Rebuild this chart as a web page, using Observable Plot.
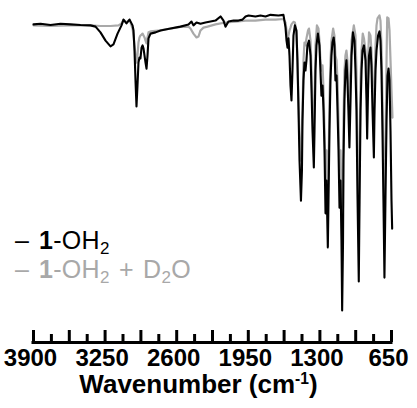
<!DOCTYPE html>
<html><head><meta charset="utf-8">
<script src="https://cdn.jsdelivr.net/npm/d3@7"></script>
<script src="https://cdn.jsdelivr.net/npm/@observablehq/plot@0.6"></script>
<style>
body{margin:0;background:#fff;font-family:"Liberation Sans",Arial,sans-serif;}
#wrap{position:relative;width:417px;height:408px;overflow:hidden;}
#legend{position:absolute;left:15px;top:226px;font-size:25px;line-height:29px;white-space:nowrap;letter-spacing:0.3px;}
#legend .d{display:inline-block;width:24px;}
#legend sub{font-size:0.68em;line-height:0;vertical-align:-0.3em;}
#legend .k{color:#000;}
#legend .g{color:#a8a8a8;word-spacing:2px;}
#xtitle{font-size:26px;font-weight:bold;text-align:center;width:397px;line-height:26px;margin-top:2px;}
#xtitle sup{font-size:0.6em;line-height:0;vertical-align:0.6em;}
</style></head><body>
<div id="wrap">
<div id="chart"></div>
<div id="legend">
<div class="k"><span class="d">–</span><b>1</b>-OH<sub>2</sub></div>
<div class="g"><span class="d">–</span><b>1</b>-OH<sub>2</sub> + D<sub>2</sub>O</div>
</div>
<div id="xtitle">Wavenumber (cm<sup>-1</sup>)</div>
</div>
<script>
// Series 1: 1-OH2 (black)
const blackWavenumber = [3900,3836,3746,3655,3564,3473,3383,3337,3292,3246,3201,3174,3137,3101,3083,3056,3028,3001,2992,2983,2974,2965,2956,2947,2938,2929,2919,2910,2901,2892,2883,2874,2865,2856,2838,2792,2747,2656,2566,2493,2466,2448,2420,2384,2339,2293,2248,2202,2175,2157,2130,2084,2039,2003,1975,1948,1885,1839,1794,1749,1676,1631,1622,1612,1603,1594,1585,1576,1567,1558,1549,1540,1527,1513,1504,1494,1485,1472,1463,1458,1449,1440,1431,1422,1413,1399,1385,1376,1367,1355,1349,1340,1331,1318,1304,1295,1286,1276,1267,1258,1249,1240,1228,1222,1213,1204,1195,1186,1175,1168,1159,1149,1140,1131,1122,1113,1104,1098,1090,1086,1077,1068,1059,1050,1041,1032,1022,1013,1000,986,977,968,959,947,940,931,922,913,900,886,877,871,863,854,841,832,822,810,804,795,786,772,759,750,741,732,723,714,705,695,686,677,668,659,650,644];
const blackTransmittance = [100.0,100.2,99.8,100.2,100.0,99.8,99.7,99.3,97.5,94.9,93.1,93.7,97.1,99.7,101.5,100.3,101.5,99.7,98.1,91.8,82.4,74.2,80.8,88.0,89.6,89.3,92.7,93.4,92.4,90.2,88.0,86.1,90.2,95.6,97.1,97.5,98.1,98.7,99.3,100.0,100.9,99.7,100.6,100.2,100.6,100.9,101.2,102.5,101.2,99.3,100.9,101.2,101.2,101.5,102.5,102.8,102.5,102.8,102.5,103.0,102.8,103.0,101.2,99.0,94.9,92.7,95.6,90.2,80.8,76.1,85.5,96.5,99.7,98.1,88.7,72.9,57.2,44.6,54.1,69.8,82.4,88.0,85.5,88.7,93.4,94.9,90.2,79.2,66.6,55.0,66.6,85.5,93.4,97.1,93.4,85.5,77.6,80.8,72.9,60.4,40.6,50.9,29.9,44.6,66.6,82.4,90.2,94.3,95.9,93.4,82.4,83.9,72.9,60.4,42.4,50.9,32.1,10.1,32.1,57.2,76.1,85.5,88.7,82.4,72.9,61.3,76.1,90.2,97.5,94.9,85.5,72.9,46.8,19.2,44.6,72.9,85.5,91.8,93.4,88.7,76.1,64.1,79.2,90.2,92.7,87.1,72.9,58.2,72.9,85.5,91.8,96.5,97.8,94.9,85.5,66.6,44.6,20.4,44.6,69.8,83.9,86.1,82.4,66.6,44.6,35.8];

// Series 2: 1-OH2 + D2O (grey)
const grayWavenumber = [3900,3746,3564,3383,3292,3201,3128,3101,3083,3056,3028,3001,2992,2983,2974,2965,2956,2947,2938,2929,2919,2910,2901,2892,2883,2874,2865,2856,2838,2747,2656,2566,2493,2475,2448,2420,2402,2384,2357,2320,2248,2157,2066,1975,1885,1794,1703,1631,1612,1603,1594,1585,1576,1567,1558,1540,1527,1513,1504,1494,1485,1472,1458,1449,1440,1431,1422,1408,1399,1385,1376,1367,1358,1349,1340,1327,1313,1304,1295,1286,1276,1267,1258,1249,1240,1231,1222,1213,1204,1195,1180,1168,1159,1149,1140,1131,1122,1113,1104,1098,1090,1086,1077,1068,1059,1050,1041,1032,1022,1013,992,977,968,959,947,940,931,922,911,900,886,877,871,863,854,841,832,822,810,804,795,786,777,759,750,741,732,723,714,705,695,689,677,668,659,650,641];
const grayTransmittance = [99.7,99.5,99.7,99.7,99.5,99.5,99.7,100.3,101.5,100.6,101.5,98.7,96.5,93.4,90.2,88.0,90.2,94.3,95.9,96.5,96.8,97.1,96.5,95.9,94.9,94.0,95.9,97.5,97.8,98.1,98.7,99.2,99.3,98.7,97.1,95.9,96.2,98.1,99.0,99.3,100.0,100.6,100.9,101.2,101.2,101.5,101.5,101.7,100.6,98.1,94.9,96.5,98.1,99.0,100.0,100.8,100.6,97.5,88.7,76.1,63.5,57.2,72.9,88.7,94.3,93.4,95.6,98.1,98.7,94.9,85.5,72.9,63.5,76.1,93.4,99.7,98.7,94.9,88.7,85.5,87.1,79.2,66.6,52.5,60.4,44.6,54.1,76.1,88.7,94.9,98.7,96.5,90.2,88.7,82.4,69.8,54.1,60.4,44.6,25.8,44.6,69.8,85.5,90.2,91.8,88.7,82.4,72.9,85.5,94.9,99.7,96.5,85.5,60.4,35.2,57.2,82.4,91.8,97.1,95.6,91.8,83.9,76.1,88.7,97.5,96.5,91.8,79.2,69.8,82.4,93.4,99.7,101.9,102.8,101.2,93.4,76.1,57.2,38.4,60.4,88.7,102.2,101.9,98.1,88.7,79.2,70.7];

// Axis ticks (cm-1)
const majorTicks = [3900,3575,3250,2925,2600,2275,1950,1625,1300,975,650];
const minorTicks = [3737.5,3412.5,3087.5,2762.5,2437.5,2112.5,1787.5,1462.5,1137.5,812.5];
const labelTicks = [3900,3250,2600,1950,1300,650];
const yDomain = [0, 105];

const black = blackWavenumber.map((w, i) => ({wn: w, t: blackTransmittance[i]}));
const gray = grayWavenumber.map((w, i) => ({wn: w, t: grayTransmittance[i]}));

const chart = Plot.plot({
  width: 417,
  height: 369,
  marginLeft: 33,
  marginRight: 26,
  marginTop: 8,
  marginBottom: 27,
  style: {fontFamily: '"Liberation Sans", Arial, sans-serif', background: "white", overflow: "visible"},
  x: {domain: [3900, 650], axis: null},
  y: {domain: yDomain, axis: null},
  marks: [
    Plot.line(gray, {x: "wn", y: "t", stroke: "#a9a9a9", strokeWidth: 2.2}),
    Plot.line(black, {x: "wn", y: "t", stroke: "#000", strokeWidth: 2.1}),
    Plot.ruleY([yDomain[0]], {stroke: "#000", strokeWidth: 3, strokeLinecap: "square"}),
    Plot.axisX(majorTicks, {anchor: "bottom", tickSize: -12, strokeWidth: 3, tickFormat: () => "", label: null}),
    Plot.axisX(minorTicks, {anchor: "bottom", tickSize: -8, strokeWidth: 3, tickFormat: () => "", label: null}),
    Plot.axisX(labelTicks, {anchor: "bottom", tickSize: 0, tickPadding: 6, dx: -3, fontSize: 24, fontWeight: "bold", tickFormat: d => String(d), label: null})
  ]
});
document.getElementById("chart").appendChild(chart);
</script>
</body></html>
